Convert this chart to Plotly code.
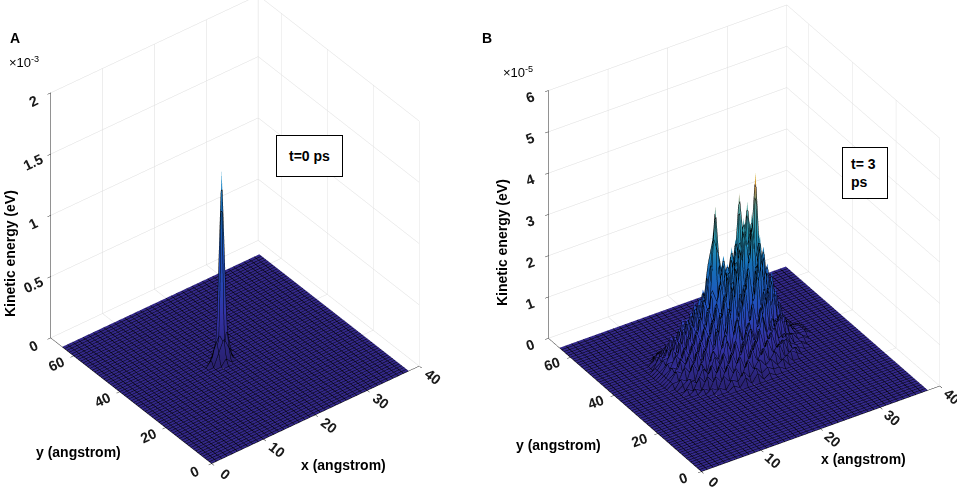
import numpy as np
import plotly.graph_objects as go

# simulation grid (angstrom)
x_grid = list(range(0, 39))
y_grid = list(range(0, 66))

# panel A, t = 0 ps : kinetic energy in 1e-3 eV, zero outside this patch
a_x0, a_y0 = 15, 32
a_patch = [
    [0.00, 0.00, 0.05, 0.00, 0.00],
    [0.00, 0.10, 0.20, 0.10, 0.00],
    [0.05, 0.20, 1.56, 0.25, 0.00],
    [0.00, 0.10, 0.20, 0.10, 0.05],
    [0.00, 0.00, 0.05, 0.00, 0.00],
]

# panel B, t = 3 ps : kinetic energy in 1e-5 eV, rows y = 26..50, cols x = 8..31
b_x0, b_y0 = 8, 26
b_patch = [
    [0, 0, 0, 0, 0, 0, 0, .1, 0, .2, 0, .2, 0, .1, 0, 0, 0, 0, 0, 0, 0, 0, 0, 0],
    [0, 0, 0, 0, 0, .1, 0, .2, .1, .3, .1, .3, .1, .2, .1, .1, 0, 0, 0, 0, 0, 0, 0, 0],
    [0, 0, 0, 0, .1, 0, .3, .1, .4, .1, .5, .2, .4, .2, .3, .1, .2, 0, 0, 0, 0, 0, 0, 0],
    [0, 0, 0, .1, 0, .3, .1, .5, .2, .6, .2, .7, .3, .6, .2, .4, .1, .2, 0, 0, 0, 0, 0, 0],
    [0, 0, .1, 0, .3, .1, .5, .2, .7, .3, .9, .3, .8, .3, .7, .3, .5, .1, .2, .1, 0, 0, 0, 0],
    [0, .1, 0, .3, .1, .5, .2, .7, .3, .9, .4, 1.1, .4, 1.0, .4, .8, .3, .5, .1, .2, 0, 0, 0, 0],
    [0, 0, .2, .1, .4, .2, .6, .3, .9, .4, 1.2, .5, 1.0, .5, 1.2, .5, .8, .3, .4, .1, .1, 0, 0, 0],
    [0, .1, .2, .1, .5, .2, .7, .4, 1.0, .5, 1.3, .6, 1.1, .5, 1.4, .6, 1.0, .4, .5, .2, .1, .1, 0, 0],
    [0, .2, .1, .5, .2, .8, .3, 1.2, .5, 1.6, .7, 1.9, .6, 1.5, .7, 1.8, .5, .9, .3, .4, .1, .1, 0, 0],
    [.1, .1, .4, .2, .7, .3, 1.0, .5, 1.5, .6, 2.2, .9, 2.0, .8, 2.4, .9, 1.7, .5, .9, .3, .3, .1, .1, 0],
    [.1, .3, .2, .6, .3, .9, .5, 1.3, .7, 1.8, 1.0, 2.6, 1.1, 2.3, 1.2, 2.9, 1.0, 1.9, .6, .8, .2, .2, .1, 0],
    [.1, .2, .5, .3, .8, .4, 1.1, .7, 1.6, 1.0, 2.3, 1.2, 3.0, 1.4, 3.4, 1.6, 2.5, .9, 1.4, .5, .5, .2, .1, .1],
    [.1, .3, .2, .7, .4, 1.0, .6, 1.5, .9, 2.0, 1.3, 2.7, 1.5, 3.3, 2.0, 4.3, 1.4, 2.0, .7, 1.0, .3, .3, .1, .1],
    [.1, .2, .5, .3, .9, .5, 1.3, .8, 1.8, 1.4, 2.5, 1.4, 2.8, 1.9, 3.6, 1.8, 2.6, 1.0, 1.5, .6, .6, .2, .1, .1],
    [.1, .3, .3, .8, .4, 1.1, .7, 1.6, 1.1, 3.7, 1.5, 2.2, 1.6, 3.8, 2.2, 2.9, 1.3, 1.9, .8, 1.1, .3, .3, .1, .1],
    [.1, .2, .6, .3, 1.0, .5, 1.4, .8, 2.2, 2.9, 2.4, 1.3, 2.4, 1.7, 2.6, 1.4, 2.0, .9, 1.5, .6, .6, .2, .1, .1],
    [.1, .3, .3, .8, .4, 1.1, .7, 1.5, 1.2, 2.3, 1.2, 1.9, 1.1, 2.0, 1.2, 1.8, .9, 1.4, .8, 1.0, .3, .3, .1, 0],
    [.1, .2, .5, .3, .9, .5, 1.2, .7, 1.6, .9, 1.7, .8, 1.5, .9, 1.6, .8, 1.3, .8, 1.4, .5, .5, .2, .1, 0],
    [0, .3, .2, .7, .4, 1.0, .5, 1.3, .7, 1.4, .7, 1.3, .7, 1.3, .7, 1.2, .6, 1.1, 1.8, .8, .3, .2, .1, 0],
    [0, .1, .4, .2, .6, .3, .9, .4, 1.0, .5, 1.0, .5, .9, .5, .9, .4, .8, .5, .9, .4, .3, .1, 0, 0],
    [0, .2, .1, .4, .2, .6, .3, .7, .3, .7, .4, .7, .3, .6, .4, .6, .3, .5, .3, .4, .1, .1, 0, 0],
    [0, 0, .2, .1, .3, .2, .4, .2, .5, .2, .5, .3, .4, .3, .4, .2, .4, .2, .3, .1, .1, 0, 0, 0],
    [0, 0, .1, .1, .2, .1, .3, .1, .3, .2, .3, .2, .3, .1, .2, .2, .2, .1, .1, .1, 0, 0, 0, 0],
    [0, 0, 0, .1, 0, .1, .1, .2, .1, .2, .1, .2, .1, .1, .1, .1, .1, 0, .1, 0, 0, 0, 0, 0],
    [0, 0, 0, 0, 0, .1, 0, .1, 0, .1, 0, .1, 0, .1, 0, 0, 0, 0, 0, 0, 0, 0, 0, 0],
]

z_ticks_a = [0, 0.5, 1, 1.5, 2]
z_labels_a = ['0', '0.5', '1', '1.5', '2']
z_ticks_b = [0, 1, 2, 3, 4, 5, 6]
x_ticks = [0, 10, 20, 30, 40]
y_ticks = [0, 20, 40, 60]

# parula-like, kept blue longer so the interpolated faces look like matlab's faceted ones
cscale = [[0.0, '#33288a'], [0.15, '#4040d0'], [0.3, '#2a62ea'], [0.5, '#1c8ae6'],
          [0.65, '#30bde0'], [0.8, '#7ccfc4'], [0.9, '#f0a443'], [1.0, '#f9e022']]


def make_z(patch, x0, y0):
    z = np.zeros((len(y_grid), len(x_grid)))
    p = np.array(patch, dtype=float)
    z[y0:y0 + p.shape[0], x0:x0 + p.shape[1]] = p
    return z


def mesh_lines():
    return dict(x=dict(show=True, start=0, end=38, size=1, color='black', width=1, highlight=False),
                y=dict(show=True, start=0, end=65, size=1, color='black', width=1, highlight=False),
                z=dict(highlight=False))


def surf(z, cmax, scene):
    return go.Surface(x=x_grid, y=y_grid, z=z, colorscale=cscale, cmin=0, cmax=cmax,
                      showscale=False, contours=mesh_lines(), scene=scene,
                      lighting=dict(ambient=0.8, diffuse=0.25, specular=0.05, roughness=1, fresnel=0),
                      hoverinfo='skip')


def axis(rng, ticks, labels=None):
    return dict(range=rng, tickvals=ticks, ticktext=labels if labels else [str(t) for t in ticks],
                title=dict(text=''), showbackground=False, gridcolor='#dcdcdc', gridwidth=1,
                showline=True, linecolor='#262626', linewidth=1, ticks='outside', ticklen=4,
                tickcolor='#262626', zeroline=False, showspikes=False,
                tickfont=dict(family='Liberation Sans', size=13, color='#1a1a1a', weight='bold'))


fig = go.Figure()
fig.add_trace(surf(make_z(a_patch, a_x0, a_y0), 2.6, 'scene'))
fig.add_trace(surf(make_z(b_patch, b_x0, b_y0), 4.4, 'scene2'))

# in orthographic mode the aspect ratio sets the zoom, camera.center moves the box
fig.update_layout(
    width=957, height=490, margin=dict(l=0, r=0, t=0, b=0),
    paper_bgcolor='white', showlegend=False,
    scene=dict(domain=dict(x=[0.0047, 0.4875], y=[0.0, 1.0]),
               xaxis=axis([0, 40], x_ticks), yaxis=axis([0, 70], y_ticks),
               zaxis=axis([0, 2], z_ticks_a, z_labels_a),
               aspectmode='manual', aspectratio=dict(x=1.072, y=1.072, z=1.257),
               camera=dict(eye=dict(x=-0.866, y=-1.117, z=0.996), up=dict(x=0, y=0, z=1),
                           center=dict(x=-0.022, y=-0.029, z=-0.052),
                           projection=dict(type='orthographic'))),
    scene2=dict(domain=dict(x=[0.5, 1.0], y=[0.0, 1.0]),
                xaxis=axis([0, 40], x_ticks), yaxis=axis([0, 70], y_ticks),
                zaxis=axis([0, 6], z_ticks_b),
                aspectmode='manual', aspectratio=dict(x=1.156, y=1.156, z=1.22),
                camera=dict(eye=dict(x=-0.835, y=-1.107, z=0.90), up=dict(x=0, y=0, z=1),
                            center=dict(x=-0.093, y=0.049, z=-0.027),
                            projection=dict(type='orthographic'))),
)

bold = dict(family='Liberation Sans', size=14, color='black', weight='bold')
notes = [
    dict(x=15, y=38, text='<b>A</b>', font=bold),
    dict(x=487, y=38, text='<b>B</b>', font=bold),
    dict(x=24, y=62, text='×10<sup>-3</sup>', font=dict(family='Liberation Sans', size=13, color='black')),
    dict(x=518, y=72, text='×10<sup>-5</sup>', font=dict(family='Liberation Sans', size=13, color='black')),
    dict(x=10, y=254, text='<b>Kinetic energy (eV)</b>', font=bold, textangle=-90),
    dict(x=502, y=243, text='<b>Kinetic energy (eV)</b>', font=bold, textangle=-90),
    dict(x=78, y=452, text='<b>y (angstrom)</b>', font=bold),
    dict(x=558, y=445, text='<b>y (angstrom)</b>', font=bold),
    dict(x=343, y=465, text='<b>x (angstrom)</b>', font=bold),
    dict(x=863, y=459, text='<b>x (angstrom)</b>', font=bold),
]
for n in notes:
    fig.add_annotation(xref='paper', yref='paper', x=n['x'] / 957, y=1 - n['y'] / 490,
                       xanchor='center', yanchor='middle', showarrow=False,
                       text=n['text'], font=n['font'], textangle=n.get('textangle', 0))

fig.add_annotation(xref='paper', yref='paper', x=309.5 / 957, y=1 - 156 / 490, xanchor='center',
                   yanchor='middle', showarrow=False, text='<b>t=0 ps</b>', font=bold,
                   bordercolor='black', borderwidth=1, borderpad=12, bgcolor='white')
fig.add_annotation(xref='paper', yref='paper', x=864.5 / 957, y=1 - 172.5 / 490, xanchor='center',
                   yanchor='middle', showarrow=False, text='<b>t= 3<br>ps   </b>', font=bold,
                   align='left', bordercolor='black', borderwidth=1, borderpad=8, bgcolor='white')

fig.write_html('out.html', config=dict(displayModeBar=False),
               post_script="document.body.style.margin='0';")
